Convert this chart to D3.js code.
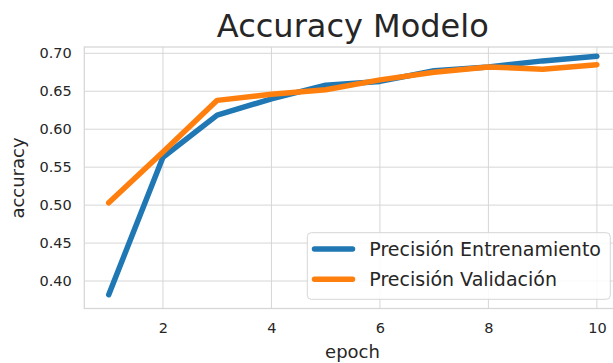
<!DOCTYPE html>
<html>
<head>
<meta charset="utf-8">
<script src="https://cdn.jsdelivr.net/npm/d3@7"></script>
<style>
  body { margin: 0; background: #fff; }
  svg { display: block; font-family: "DejaVu Sans", sans-serif; }
</style>
</head>
<body>
<script>
// Chart data
const epochs = [1, 2, 3, 4, 5, 6, 7, 8, 9, 10];
const trainAcc = [0.382, 0.563, 0.6185, 0.640, 0.658, 0.663, 0.677, 0.682, 0.690, 0.696];
const valAcc = [0.503, 0.570, 0.638, 0.646, 0.652, 0.665, 0.675, 0.682, 0.679, 0.685];
const seriesNames = ["Precisión Entrenamiento", "Precisión Validación"];
const seriesColours = ["#1f77b4", "#ff7f0e"];
const xTicks = [2, 4, 6, 8, 10];
const yTicks = [0.40, 0.45, 0.50, 0.55, 0.60, 0.65, 0.70];

// SVG dimensions
const width = 613, height = 363;
const plotLeft = 84.3, plotRight = 621.3, plotTop = 47, plotBottom = 308.5;
const textColour = "#262626", gridColour = "#d6d6d6";

const svg = d3.select("body").append("svg")
    .attr("width", width)
    .attr("height", height);

// Scales
let x = d3.scaleLinear().domain([0.55, 10.45]).range([plotLeft, plotRight]);
let y = d3.scaleLinear().domain([0.3638, 0.7083]).range([plotBottom, plotTop]);

// Grid
let grid = svg.append("g");
grid.selectAll(".gx").data(xTicks).join("line")
    .attr("x1", d => x(d)).attr("x2", d => x(d))
    .attr("y1", plotTop).attr("y2", plotBottom)
    .attr("stroke", gridColour).attr("stroke-width", 1);
grid.selectAll(".gy").data(yTicks).join("line")
    .attr("x1", plotLeft).attr("x2", plotRight)
    .attr("y1", d => y(d)).attr("y2", d => y(d))
    .attr("stroke", gridColour).attr("stroke-width", 1);

// Frame
svg.append("rect")
    .attr("x", plotLeft).attr("y", plotTop)
    .attr("width", plotRight - plotLeft).attr("height", plotBottom - plotTop)
    .attr("fill", "none").attr("stroke", gridColour).attr("stroke-width", 1.25);

// Axes (tick labels only, seaborn whitegrid style)
let xAxis = svg.append("g")
    .attr("transform", `translate(0, ${plotBottom})`)
    .call(d3.axisBottom(x).tickValues(xTicks).tickSize(0).tickPadding(14).tickFormat(d3.format("d")));
let yAxis = svg.append("g")
    .attr("transform", `translate(${plotLeft}, 0)`)
    .call(d3.axisLeft(y).tickValues(yTicks).tickSize(0).tickPadding(12.5).tickFormat(d3.format(".2f")));
[xAxis, yAxis].forEach(a => {
    a.select(".domain").remove();
    a.selectAll("text")
        .attr("fill", textColour)
        .style("font-family", "'DejaVu Sans', sans-serif")
        .style("font-size", "14.5px");
});

// Lines
const lineGen = d3.line()
    .x((d, i) => x(epochs[i]))
    .y(d => y(d));
[trainAcc, valAcc].forEach((s, i) => {
    svg.append("path")
        .datum(s)
        .attr("fill", "none")
        .attr("stroke", seriesColours[i])
        .attr("stroke-width", 5.5)
        .attr("stroke-linecap", "round")
        .attr("stroke-linejoin", "round")
        .attr("d", lineGen);
});

// Title and axis labels
svg.append("text")
    .attr("x", (plotLeft + plotRight) / 2).attr("y", 36.5)
    .attr("text-anchor", "middle")
    .attr("fill", textColour)
    .style("font-size", "32px")
    .text("Accuracy Modelo");
svg.append("text")
    .attr("x", 352.5).attr("y", 358)
    .attr("text-anchor", "middle")
    .attr("fill", textColour)
    .style("font-size", "18px")
    .text("epoch");
svg.append("text")
    .attr("transform", `translate(24, 178) rotate(-90)`)
    .attr("text-anchor", "middle")
    .attr("fill", textColour)
    .style("font-size", "18px")
    .text("accuracy");

// Legend
let legend = svg.append("g");
legend.append("rect")
    .attr("x", 307.3).attr("y", 232.7)
    .attr("width", 303).attr("height", 66.6)
    .attr("rx", 4)
    .attr("fill", "white").attr("fill-opacity", 0.85)
    .attr("stroke", gridColour).attr("stroke-width", 1);
seriesNames.forEach((name, i) => {
    let ly = 249 + i * 30.3;
    legend.append("line")
        .attr("x1", 314.5).attr("x2", 352.5)
        .attr("y1", ly).attr("y2", ly)
        .attr("stroke", seriesColours[i])
        .attr("stroke-width", 5.5)
        .attr("stroke-linecap", "round");
    legend.append("text")
        .attr("x", 369.3).attr("y", ly + 6.7)
        .attr("fill", textColour)
        .style("font-size", "19px")
        .text(name);
});
</script>
</body>
</html>
